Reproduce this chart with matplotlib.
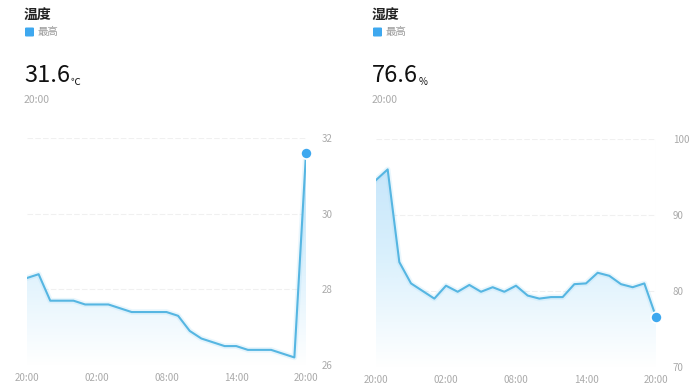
import numpy as np
import matplotlib
matplotlib.use("Agg")
import matplotlib.pyplot as plt
from matplotlib.colors import LinearSegmentedColormap
from matplotlib.patches import FancyBboxPatch

plt.rcParams['font.family'] = ['Noto Sans CJK SC', 'DejaVu Sans']

horas = list(range(25))
xtick_pos = [0, 6, 12, 18, 24]
xtick_labels = ["20:00", "02:00", "08:00", "14:00", "20:00"]

temp_max = [28.3, 28.4, 27.7, 27.7, 27.7, 27.6, 27.6, 27.6, 27.5, 27.4,
            27.4, 27.4, 27.4, 27.3, 26.9, 26.7, 26.6, 26.5, 26.5, 26.4,
            26.4, 26.4, 26.3, 26.2, 31.6]
hum_max = [94.6, 96.0, 83.8, 81.0, 80.0, 79.0, 80.7, 79.9, 80.8, 79.9,
           80.5, 79.9, 80.7, 79.4, 79.0, 79.2, 79.2, 80.9, 81.0, 82.4,
           82.0, 80.9, 80.5, 81.0, 76.6]

temp_ticks = [26, 28, 30, 32]
hum_ticks = [70, 80, 90, 100]

LINE = "#56b6e2"
DOT = "#3ea8ef"
W, H = 700, 392

fig = plt.figure(figsize=(7, 3.92), dpi=100)
fig.patch.set_facecolor("white")

grad = LinearSegmentedColormap.from_list(
    "g", [(1, 1, 1, 1), (0.85, 0.94, 0.99, 1), (0.76, 0.89, 0.98, 1)])


def px_axes(x0, x1, ytop, ybot):
    return fig.add_axes([x0 / W, (H - ybot) / H, (x1 - x0) / W, (ybot - ytop) / H])


def panel(ax, y, ylim, yticks, y_pad):
    ax.set_xlim(0, 24)
    ax.set_ylim(*ylim)
    for s in ax.spines.values():
        s.set_visible(False)
    for t in yticks:
        ax.axhline(t, color="#f0f0f0", lw=0.8, ls=(0, (5, 2)), zorder=0)

    # relleno con degradado
    poly = ax.fill_between(horas, y, ylim[0], color="none", lw=0)
    img = ax.imshow(np.linspace(0, 1, 256).reshape(-1, 1), cmap=grad,
                    aspect="auto", extent=[0, 24, ylim[0], ylim[1]],
                    origin="lower", zorder=1)
    img.set_clip_path(poly.get_paths()[0], transform=ax.transData)

    # brillo + linea
    ax.plot(horas, y, color="#a8dcf7", lw=4, alpha=0.25, zorder=2,
            solid_joinstyle="round")
    ax.plot(horas, y, color=LINE, lw=1.5, zorder=3)
    ax.plot(horas[-1], y[-1], "o", ms=8, color=DOT, mec="white", mew=1.2,
            zorder=4, clip_on=False)

    ax.set_xticks(xtick_pos)
    ax.set_xticklabels(xtick_labels)
    ax.set_yticks(yticks)
    ax.yaxis.tick_right()
    ax.tick_params(axis="both", length=0, labelsize=7, labelcolor="#aaaaaa")
    ax.tick_params(axis="x", pad=6)
    ax.tick_params(axis="y", pad=y_pad)


ax1 = px_axes(27, 306, 138, 365)
panel(ax1, temp_max, (26, 32), temp_ticks, 11)

ax2 = px_axes(376, 656, 139, 367)
panel(ax2, hum_max, (70, 100), hum_ticks, 12)
ax2.axvline(24, color="#f2f2f2", lw=0.8, zorder=0)


def header(x, title, valor, unidad):
    def fy(p):
        return 1 - p / H
    fig.text(x / W, fy(15), title, fontsize=10, fontweight="bold",
             color="#222222", va="center", ha="left")
    sq = FancyBboxPatch(((x + 1) / W, fy(36.5)), 9 / W, 9 / H,
                        boxstyle="round,pad=0,rounding_size=0.002",
                        transform=fig.transFigure, color=DOT, lw=0)
    fig.patches.append(sq)
    fig.text((x + 14) / W, fy(32), "最高", fontsize=7.5, color="#999999",
             va="center", ha="left")
    t = fig.text(x / W, fy(76), valor, fontsize=17, color="#111111",
                 va="center", ha="left")
    fig.canvas.draw()
    bb = t.get_window_extent()
    fig.text((bb.x1 + 1) / W, fy(82), unidad, fontsize=7, color="#111111",
             va="center", ha="left")
    fig.text(x / W, fy(100), "20:00", fontsize=7.5, color="#aaaaaa",
             va="center", ha="left")


header(24, "温度", "31.6", "℃")
header(372, "湿度", "76.6", "%")

fig.savefig("out.png", dpi=100, facecolor="white")
